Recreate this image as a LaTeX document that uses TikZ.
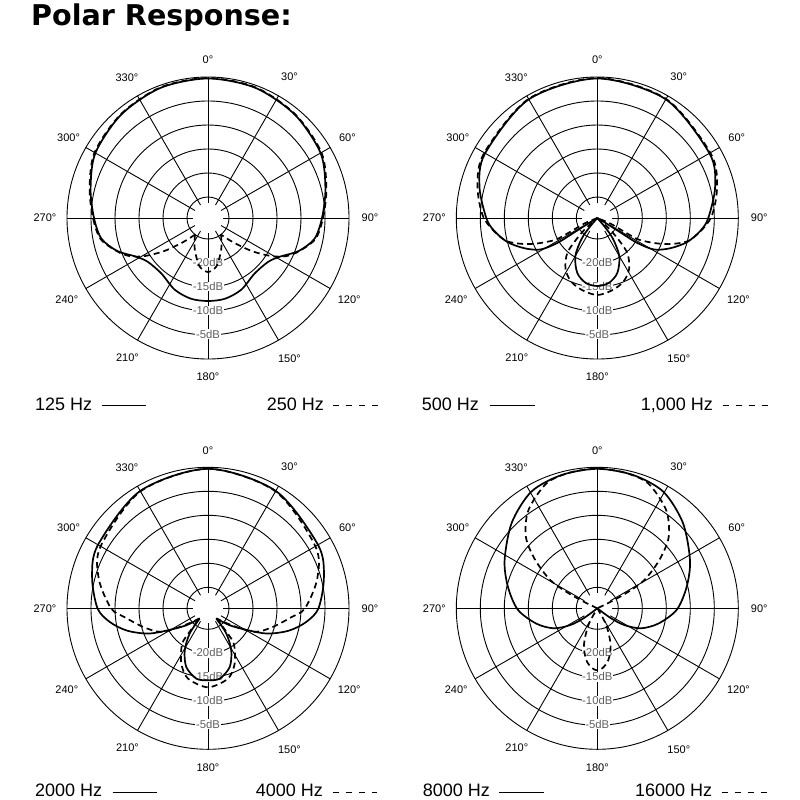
\documentclass[tikz,border=0pt]{standalone}
\usepackage{fontspec}
\setmainfont{Liberation Sans}
\newfontfamily\titlefont{DejaVu Sans}
\definecolor{dbgray}{RGB}{95,95,95}
\tikzset{
  gridline/.style={line width=0.9pt, black},
  deglabel/.style={font=\fontsize{11}{12}\selectfont, inner sep=0pt},
  dblabel/.style={font=\fontsize{11.3}{13}\selectfont, text=dbgray, fill=white, inner sep=0.7pt},
  solidcurve/.style={line width=1.7pt, line join=round},
  dashcurve/.style={line width=1.7pt, dash pattern=on 6pt off 4pt},
  legtext/.style={font=\fontsize{18}{20}\selectfont, anchor=base west, inner sep=0pt},
  legsolid/.style={line width=1.5pt},
  legdash/.style={line width=1.5pt, dash pattern=on 6pt off 7pt},
}
\newcommand\polgrid[1]{%
  \foreach \ringr in {21,45,69,93,117,141} \draw[gridline] (0,0) circle[radius=\ringr];
  \foreach \spoke in {0,30,...,330} \draw[gridline] (\spoke:15) -- (\spoke:141);
  \foreach \degv/\degr in {0/158,30/163,60/161,90/162,120/163,150/163,180/159,210/161,240/163,270/163,300/161,330/162}
    \node[deglabel] (#1d\degv) at ({\degv-90}:\degr) {\degv°};
  \node[dblabel] (#1db20) at (0,44.5) {-20dB};
  \node[dblabel] (#1db15) at (0,68.5) {-15dB};
  \node[dblabel] (#1db10) at (0,92.5) {-10dB};
  \node[dblabel] (#1db5) at (0,116) {-5dB};
}
\begin{document}
\begin{tikzpicture}[x=1pt,y=-1pt]
\fill[white] (0,0) rectangle (800,800);
\useasboundingbox (0,0) rectangle (800,800);
\node[anchor=base west, inner sep=0pt, font={\titlefont\bfseries\fontsize{28.6}{32}\selectfont}] (title) at (31,26) {Polar Response:};

% ---------- Plot 1: 125 Hz / 250 Hz ----------
\begin{scope}[shift={(208,218)}]
  \polgrid{A}
  \draw[solidcurve] plot[smooth cycle] coordinates {(-90:139.5) (-70:138.5) (-50:135) (-30:130) (-14:121) (0:114) (11:108.5) (20:96.5) (28:82) (36:74.5) (50:72.5) (65:79) (78:82.5) (90:83) (102:82.5) (115:79) (130:72.5) (144:74.5) (152:82) (160:96.5) (169:108.5) (180:114) (194:121) (210:130) (230:135) (250:138.5)};
  \draw[dashcurve] plot[smooth] coordinates {(128:21) (136:35) (143:55) (149:74) (154:87) (160:97) (169:109.5) (180:115) (194:122) (210:131) (230:135.5) (250:139) (270:140) (290:139) (310:135.5) (330:131) (346:122) (360:115) (371:109.5) (380:97) (386:87) (391:74) (397:55) (404:35) (412:21)};
  \draw[dashcurve] plot[smooth] coordinates {(52:21) (60:27) (69:36) (80:49) (90:54) (100:49) (111:36) (120:27) (128:21)};
\end{scope}

% ---------- Plot 2: 500 Hz / 1000 Hz ----------
\begin{scope}[shift={(597.3,218)}]
  \polgrid{B}
  \draw[solidcurve] plot[smooth] coordinates {(0,0) (149:10) (148:28) (148:47) (151:65) (157.5:79) (165:93) (173:104) (180:111) (195:122) (210:129.5) (240:137) (270:139.5) (300:137) (330:129.5) (345:122) (360:111) (367:104) (375:93) (382.5:79) (389:65) (392:47) (392:28) (391:10) (0,0)};
  \draw[solidcurve] plot[smooth] coordinates {(0,0) (50:12) (53:26) (60:44) (70:58.5) (80:66) (90:68) (100:66) (110:58.5) (120:44) (127:26) (130:12) (0,0)};
  \draw[dashcurve] plot[smooth] coordinates {(0,0) (157:14) (153:30) (152.5:47) (157:65) (161:79.5) (167:96) (180:113.5) (195:124) (210:130.5) (240:137.5) (270:140) (300:137.5) (330:130.5) (345:124) (360:113.5) (373:96) (379:79.5) (383:65) (387.5:47) (387:30) (383:14) (0,0)};
  \draw[dashcurve] plot[smooth] coordinates {(0,0) (43:20) (49:45) (58:60) (68:69) (79:74) (90:77) (101:74) (112:69) (122:60) (131:45) (137:20) (0,0)};
\end{scope}

% ---------- Plot 3: 2000 Hz / 4000 Hz ----------
\begin{scope}[shift={(208,608.3)}]
  \polgrid{C}
  \draw[solidcurve] plot[smooth] coordinates {(129:13.3) (142:27.6) (151.2:45.6) (157.1:65) (164.6:84) (172:99) (180:110.5) (195:120) (210:127) (240:135.5) (270:139.5) (300:135.5) (330:127) (345:120) (360:110.5) (368:99) (375.4:84) (382.9:65) (388.8:45.6) (398:27.6) (411:13.3)};
  \draw[solidcurve] plot[smooth] coordinates {(51:13.3) (54:31) (61:48) (69.7:62.6) (80.6:71.3) (90:72) (99.4:71.3) (110.3:62.6) (119:48) (126:31) (129:13.3)};
  \draw[dashcurve] plot[smooth] coordinates {(130:13) (140:22) (148:37.5) (154:53.7) (164:67.5) (174:84) (180:97) (195:113) (210:124) (240:135) (270:139.5) (300:135) (330:124) (345:113) (360:97) (366:84) (376:67.5) (386:53.7) (392:37.5) (400:22) (410:13)};
  \draw[dashcurve] plot[smooth] coordinates {(50:13) (52:30) (54:44) (64:61) (74:73) (90:79) (106:73) (116:61) (126:44) (128:30) (130:13)};
\end{scope}

% ---------- Plot 4: 8000 Hz / 16000 Hz ----------
\begin{scope}[shift={(597.3,608.3)}]
  \polgrid{D}
  \draw[solidcurve] plot[smooth] coordinates {(0,0) (144:17) (148.3:32) (155.4:48) (166:63) (179:79.5) (193.6:92) (207.5:104.5) (225:121) (240.5:134) (255:138) (270:139.5) (285:138) (299.5:134) (315:121) (332.5:104.5) (346.4:92) (361:79.5) (374:63) (384.6:48) (391.7:32) (396:17) (0,0)};
  \draw[dashcurve] plot[smooth] coordinates {(0,0) (206:16) (208:35) (211:55) (218:79) (225:101) (235:120) (248:135) (259:138.5) (270:139.5) (281:138.5) (292:135) (305:120) (315:101) (322:79) (329:55) (332:35) (334:16) (0,0)};
  \draw[dashcurve] plot[smooth] coordinates {(0,0) (62:19) (70:39) (78:53) (85:60) (90:62) (95:60) (102:53) (110:39) (118:19) (0,0)};
\end{scope}

% ---------- Legends ----------
\node[legtext] (l125) at (35,410) {125 Hz};
\coordinate (l125a) at (101.7,405.5); \coordinate (l125b) at (145.7,405.5);
\draw[legsolid] (l125a) -- (l125b);
\node[legtext] (l250) at (266.7,410) {250 Hz};
\coordinate (l250a) at (333,405.5); \coordinate (l250b) at (378,405.5);
\draw[legdash] (l250a) -- (l250b);

\node[legtext] (l500) at (421.7,410) {500 Hz};
\coordinate (l500a) at (490,405.5); \coordinate (l500b) at (535,405.5);
\draw[legsolid] (l500a) -- (l500b);
\node[legtext] (l1000) at (640.7,410) {1,000 Hz};
\coordinate (l1000a) at (722.7,405.5); \coordinate (l1000b) at (768.3,405.5);
\draw[legdash] (l1000a) -- (l1000b);

\node[legtext] (l2000) at (35,796) {2000 Hz};
\coordinate (l2000a) at (112.7,792.5); \coordinate (l2000b) at (156.7,792.5);
\draw[legsolid] (l2000a) -- (l2000b);
\node[legtext] (l4000) at (255.7,796) {4000 Hz};
\coordinate (l4000a) at (333,792.5); \coordinate (l4000b) at (376.7,792.5);
\draw[legdash] (l4000a) -- (l4000b);

\node[legtext] (l8000) at (422.7,796) {8000 Hz};
\coordinate (l8000a) at (499.3,792.5); \coordinate (l8000b) at (544,792.5);
\draw[legsolid] (l8000a) -- (l8000b);
\node[legtext] (l16000) at (635,796) {16000 Hz};
\coordinate (l16000a) at (721.7,792.5); \coordinate (l16000b) at (766.7,792.5);
\draw[legdash] (l16000a) -- (l16000b);
\end{tikzpicture}
\end{document}
